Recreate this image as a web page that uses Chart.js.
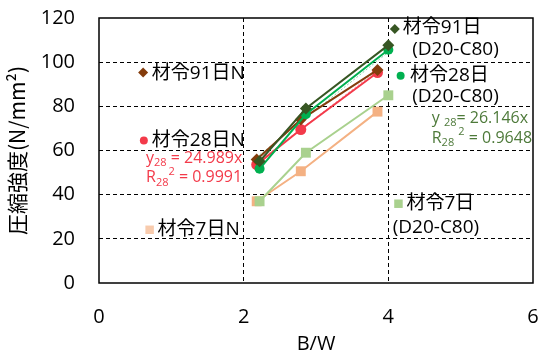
<!DOCTYPE html>
<html>
<head>
<meta charset="utf-8">
<script src="https://cdn.jsdelivr.net/npm/chart.js@4/dist/chart.umd.min.js"></script>
<style>
  html, body { margin: 0; padding: 0; background: #fff; }
  #wrap { width: 540px; height: 356px; }
</style>
</head>
<body>
<div id="wrap"><canvas id="chart"></canvas></div>
<script>
// B/W values and strength (N/mm2)
const bwN = [2.18, 2.79, 3.85];
const bwD = [2.22, 2.86, 4.0];
const n91 = [55.9, 74, 96.5];
const n28 = [53.6, 69.5, 95.3];
const n7 = [37, 50.6, 77.6];
const d91 = [55.1, 79, 107.7];
const d28 = [51.7, 76.4, 105.6];
const d7 = [37, 59, 85];

// trend lines (end points as drawn)
const trendNx = [2.17, 3.84];
const trendNy = [54.2, 96];
const trendDx = [2.22, 4.01];
const trendDy = [58, 104.8];

const xTicks = [0, 2, 4, 6];
const yTicks = [0, 20, 40, 60, 80, 100, 120];

const pts = (xs, ys) => xs.map((x, i) => ({ x: x, y: ys[i] }));

const cDarkGreen = "#375623";
const cGreen = "#00B050";
const cLightGreen = "#A9D18E";
const cBrown = "#843C0C";
const cRed = "#F33A4A";
const cOrange = "#F4B183";
const cPeach = "#F8CBAD";
const cTxtGreen = "#4E7A3A";

const series = (data, color, style, radius) => ({
  data: data,
  showLine: true,
  borderColor: color,
  backgroundColor: color,
  borderWidth: 2,
  pointStyle: style,
  pointRadius: radius,
  pointBorderWidth: 0,
});

const marker = (x, y, color, style, radius) => ({
  data: [{ x: x, y: y }],
  showLine: false,
  backgroundColor: color,
  borderColor: color,
  pointStyle: style,
  pointRadius: radius,
  pointBorderWidth: 0,
});

// in-plot labels: [x, y, color, font size, segments]
const labels = [
  [0.73, 95, "#000", 19, [["材令91日N"]]],
  [0.73, 64.3, "#000", 19, [["材令28日N"]]],
  [0.81, 24, "#000", 19, [["材令7日N"]]],
  [0.65, 56.6, cRed, 16, [["y"], ["28", "sub"], [" = 24.989x"]]],
  [0.65, 47.8, cRed, 16, [["R"], ["28", "sub"], ["2", "sup"], [" = 0.9991"]]],
  [4.2, 115.5, "#000", 19, [["材令91日"]]],
  [4.33, 105.5, "#000", 19, [["(D20-C80)"]]],
  [4.3, 93.7, "#000", 19, [["材令28日"]]],
  [4.33, 84.2, "#000", 19, [["(D20-C80)"]]],
  [4.6, 74.7, cTxtGreen, 16, [["y "], ["28", "sub"], ["= 26.146x"]]],
  [4.6, 65.5, cTxtGreen, 16, [["R"], ["28", "sub"], [" "], ["2", "sup"], [" = 0.9648"]]],
  [4.25, 35.8, "#000", 19, [["材令7日"]]],
  [4.06, 24.9, "#000", 19, [["(D20-C80)"]]],
];

const labelPlugin = {
  id: "labels",
  afterDatasetsDraw(chart) {
    const ctx = chart.ctx;
    const xs = chart.scales.x;
    const ys = chart.scales.y;
    ctx.save();
    ctx.textBaseline = "middle";
    ctx.textAlign = "left";
    labels.forEach(([x, y, color, fs, segs]) => {
      let px = xs.getPixelForValue(x);
      const py = ys.getPixelForValue(y);
      ctx.fillStyle = color;
      segs.forEach(([t, mode]) => {
        let size = fs;
        let dy = 0;
        if (mode === "sub") { size = 11; dy = 5; }
        if (mode === "sup") { size = 11; dy = -6; }
        ctx.font = size + 'px "Open Sans", "Noto Sans CJK JP", sans-serif';
        ctx.fillText(t, px, py + dy);
        px += ctx.measureText(t).width;
      });
    });
    ctx.restore();
  },
};

const framePlugin = {
  id: "frame",
  afterDatasetsDraw(chart) {
    const a = chart.chartArea;
    const ctx = chart.ctx;
    ctx.save();
    ctx.strokeStyle = "#000";
    ctx.lineWidth = 1.5;
    ctx.strokeRect(a.left, a.top, a.right - a.left, a.bottom - a.top);
    ctx.restore();
  },
};

new Chart(document.getElementById("chart"), {
  type: "scatter",
  data: {
    datasets: [
      series(pts(bwD, d91), cDarkGreen, "rectRot", 6),
      series(pts(bwD, d28), cGreen, "circle", 5),
      series(pts(bwN, n91), cBrown, "rectRot", 6),
      series(pts(bwN, n28), cRed, "circle", 5.5),
      series(pts(bwD, d7), cLightGreen, "rect", 7),
      series(pts(bwN, n7), cOrange, "rect", 7),
      Object.assign(series(pts(trendNx, trendNy), "rgba(243,58,74,0.5)", "circle", 0), { borderWidth: 1, borderDash: [2, 2] }),
      Object.assign(series(pts(trendDx, trendDy), "rgba(0,176,80,0.5)", "circle", 0), { borderWidth: 1, borderDash: [2, 2] }),
      marker(0.61, 95.3, cBrown, "rectRot", 5),
      marker(0.62, 64.5, cRed, "circle", 4),
      marker(0.70, 24.1, cPeach, "rect", 6),
      marker(4.09, 115, cDarkGreen, "rectRot", 5),
      marker(4.17, 93.8, cGreen, "circle", 4),
      marker(4.14, 35.9, cLightGreen, "rect", 6),
    ],
  },
  options: {
    responsive: true,
    maintainAspectRatio: false,
    animation: false,
    events: [],
    layout: { padding: { left: 0, right: 7, top: 18, bottom: 0 } },
    plugins: { legend: { display: false }, tooltip: { enabled: false } },
    scales: {
      x: {
        type: "linear",
        min: 0,
        max: 6,
        afterBuildTicks: (s) => { s.ticks = xTicks.map((v) => ({ value: v })); },
        afterFit: (s) => { s.height = 73; s.paddingLeft = 0; s.paddingRight = 0; },
        grid: {
          color: (c) => (c.tick.value === 0 || c.tick.value === 6 ? "rgba(0,0,0,0)" : "#000"),
          lineWidth: 1,
          drawTicks: false,
        },
        border: { display: false, dash: [4, 3] },
        ticks: { color: "#000", padding: 22, font: { family: "Open Sans", size: 20 } },
        title: {
          display: true,
          text: "B/W",
          color: "#000",
          padding: { top: 0, bottom: 0 },
          font: { family: "Open Sans", size: 20 },
        },
      },
      y: {
        min: 0,
        max: 120,
        afterBuildTicks: (s) => { s.ticks = yTicks.map((v) => ({ value: v })); },
        afterFit: (s) => { s.width = 99; s.paddingTop = 0; s.paddingBottom = 0; },
        grid: {
          color: (c) => (c.tick.value === 0 || c.tick.value === 120 ? "rgba(0,0,0,0)" : "#000"),
          lineWidth: 1,
          drawTicks: false,
        },
        border: { display: false, dash: [4, 3] },
        ticks: { color: "#000", padding: 24, font: { family: "Open Sans", size: 20 } },
        title: {
          display: true,
          text: "圧縮強度(N/mm²)",
          color: "#000",
          padding: { top: 4, bottom: 0 },
          font: { family: "Noto Sans CJK JP", size: 21 },
        },
      },
    },
  },
  plugins: [labelPlugin, framePlugin],
});
</script>
</body>
</html>
